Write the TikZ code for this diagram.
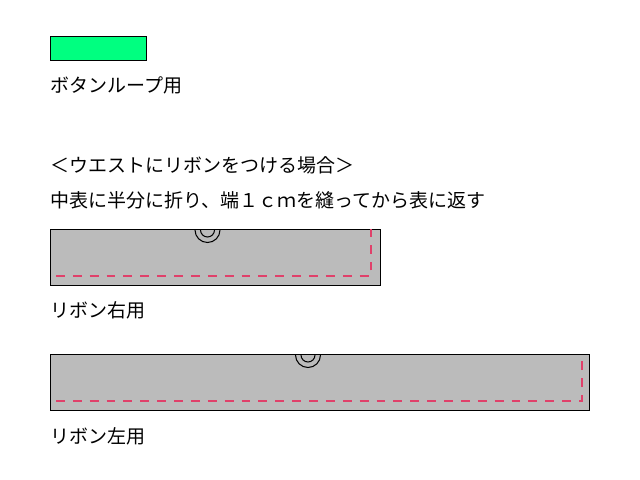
\documentclass[tikz,border=0pt]{standalone}
\usepackage{fontspec}
\newfontfamily\jpfont{Noto Sans CJK JP}
\usetikzlibrary{calc}
\definecolor{loopgreen}{HTML}{00FF80}
\definecolor{clothgray}{HTML}{BBBBBB}
\definecolor{seampink}{HTML}{E0406A}
\tikzset{
  note/.style={anchor=west,inner sep=0pt,font=\jpfont\fontsize{13.5}{16}\selectfont},
  cloth/.style={draw=black,fill=clothgray,line width=0.025cm},
  seam/.style={seampink,line width=0.065cm,dash pattern=on 6.3pt off 5.7pt},
}
\begin{document}
\begin{tikzpicture}[x=0.025cm,y=-0.025cm]
                \useasboundingbox(0,0)rectangle(640,480);
                % button loop
                \draw[fill=loopgreen,line width=0.025cm](50,36)rectangle(146,60);
                \node[note](loop)at(50,85){ボタンループ用};
                \node[note](case)at(50,165){＜ウエストにリボンをつける場合＞};
                \node[note](howto)at(50,200){中表に半分に折り、端１ｃｍを縫ってから表に返す};
                % right ribbon
                \coordinate(A)at(50,229);
                \coordinate(B)at(380,285);
                \draw[cloth](A)rectangle(B);
                \begin{scope}
                \clip(A)rectangle(B);
                \draw[line width=0.025cm](207.5,230)circle[radius=12.5];
                \draw[line width=0.025cm](207.5,230)circle[radius=7];
                \end{scope}
                \draw[seam](56,276)--(371,276)--(371,229);
                \node[note](right)at(50,310){リボン右用};
                % left ribbon
                \coordinate(C)at(50,354);
                \coordinate(D)at(589,410);
                \draw[cloth](C)rectangle(D);
                \begin{scope}
                \clip(C)rectangle(D);
                \draw[line width=0.025cm](308,355)circle[radius=12.5];
                \draw[line width=0.025cm](308,355)circle[radius=7];
                \end{scope}
                \draw[seam](56,401)--(582,401)--(582,354);
                \node[note](left)at(50,436){リボン左用};
            \end{tikzpicture}
\end{document}
